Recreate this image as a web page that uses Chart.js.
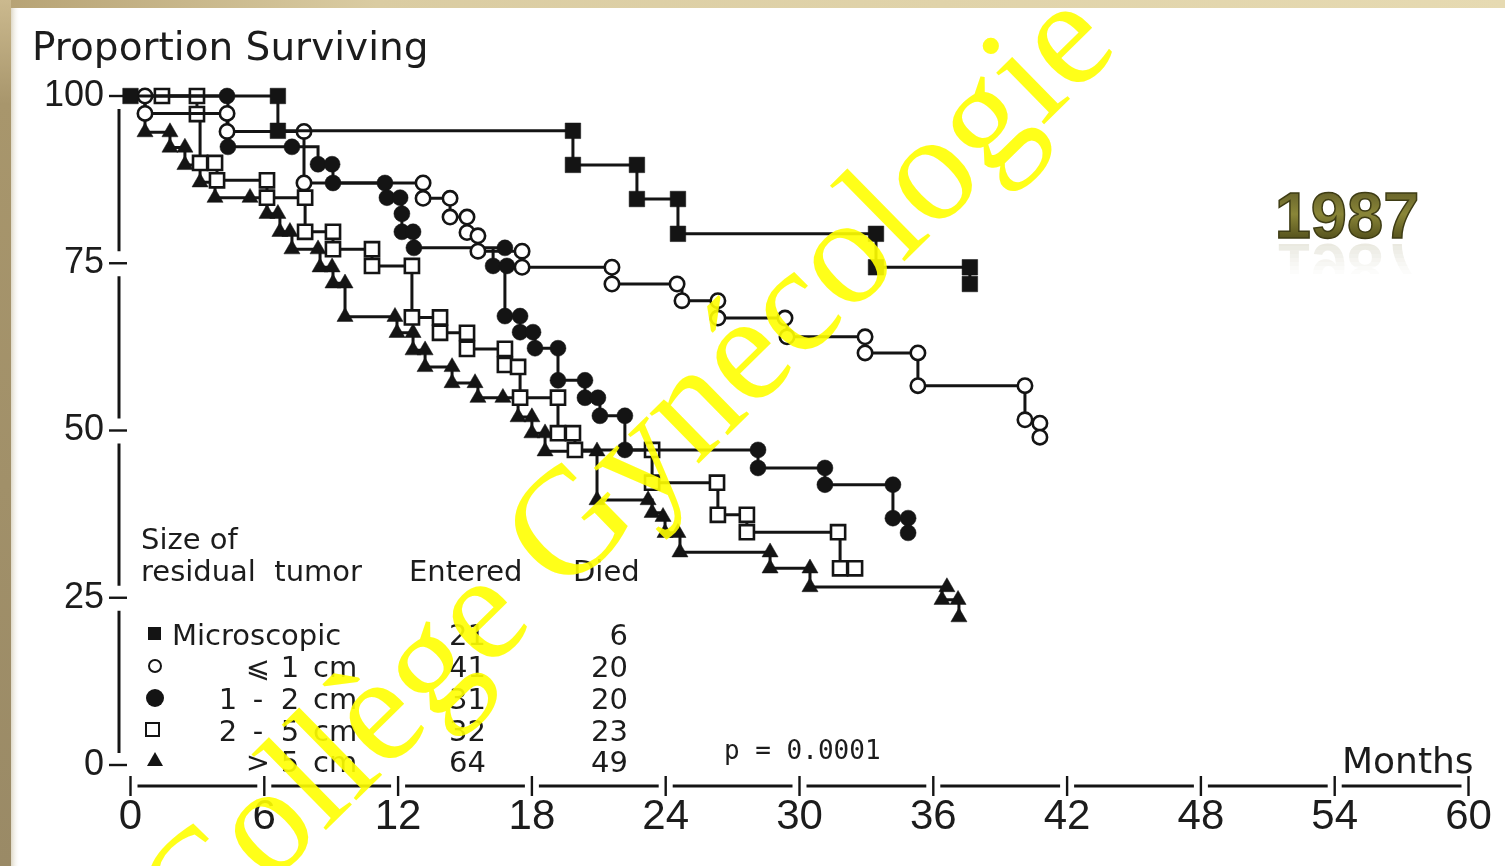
<!DOCTYPE html>
<html><head><meta charset="utf-8">
<script src="https://cdn.jsdelivr.net/npm/chart.js@4.4.1/dist/chart.umd.min.js"></script>
<style>html,body{margin:0;padding:0;background:#fff;overflow:hidden}#wrap{width:1505px;height:866px;position:relative}</style>
</head><body><div id="wrap"><canvas id="c"></canvas></div>
<script>
// ---- data (months, percent surviving) ----
const xTicks = [0, 6, 12, 18, 24, 30, 36, 42, 48, 54, 60];
const yTicks = [0, 25, 50, 75, 100];
const seriesNames = ['Microscopic', '⩽ 1 cm', '1 - 2 cm', '2 - 5 cm', '> 5 cm'];
const entered = [21, 41, 31, 32, 64];
const died = [6, 20, 20, 23, 49];
const pValue = 'p = 0.0001';

const microMonths = [0, 6.61, 6.61, 19.84, 19.84, 22.71, 22.71, 24.55, 24.55, 33.43, 33.43, 37.64, 37.64];
const microPct    = [100, 100, 94.8, 94.8, 89.7, 89.7, 84.6, 84.6, 79.4, 79.4, 74.4, 74.4, 71.9];

const le1Months = [0, 0.65, 0.65, 4.33, 4.33, 7.78, 7.78, 13.12, 13.12, 14.33, 14.33, 15.09, 15.09, 15.58, 15.58, 17.56, 17.56, 21.59, 21.59, 24.51, 24.73, 26.34, 26.34, 29.35, 29.44, 32.94, 32.94, 35.31, 35.31, 40.11, 40.11, 40.78, 40.78];
const le1Pct    = [100, 100, 97.4, 97.4, 94.7, 94.7, 87.0, 87.0, 84.7, 84.7, 81.9, 81.9, 79.6, 79.1, 76.8, 76.8, 74.4, 74.4, 71.9, 71.9, 69.4, 69.4, 66.8, 66.8, 64.0, 64.0, 61.6, 61.6, 56.7, 56.7, 51.6, 51.1, 49.0];

const c12Months = [0, 4.33, 4.37, 7.24, 8.41, 9.04, 9.08, 11.41, 11.50, 12.09, 12.17, 12.17, 12.67, 12.71, 16.79, 16.26, 16.88, 16.79, 17.47, 17.47, 18.05, 18.14, 19.17, 19.17, 20.38, 20.38, 20.96, 21.05, 22.17, 22.17, 28.14, 28.14, 31.14, 31.14, 34.19, 34.19, 34.87, 34.87];
const c12Pct    = [100, 100, 92.4, 92.4, 89.8, 89.8, 87.0, 87.0, 84.8, 84.8, 82.4, 79.7, 79.7, 77.3, 77.3, 74.6, 74.6, 67.1, 67.1, 64.7, 64.7, 62.3, 62.3, 57.5, 57.5, 54.9, 54.9, 52.2, 52.2, 47.1, 47.1, 44.4, 44.4, 41.9, 41.9, 36.9, 36.9, 34.7];

const c25Months = [0, 1.41, 2.98, 2.98, 3.12, 3.79, 3.88, 6.12, 6.12, 7.83, 7.83, 9.08, 9.08, 10.83, 10.83, 12.62, 12.62, 13.88, 13.88, 15.09, 15.09, 16.79, 16.79, 17.38, 17.47, 19.17, 19.17, 19.84, 19.93, 23.39, 23.39, 26.30, 26.34, 27.64, 27.64, 31.73, 31.82, 32.49];
const c25Pct    = [100, 100, 100, 97.3, 90.0, 90.0, 87.4, 87.4, 84.8, 84.8, 79.7, 79.7, 77.1, 77.1, 74.6, 74.6, 66.9, 66.9, 64.6, 64.6, 62.2, 62.2, 59.8, 59.5, 54.9, 54.9, 49.6, 49.6, 47.1, 47.1, 42.2, 42.2, 37.4, 37.4, 34.8, 34.8, 29.4, 29.4];

const gt5Months = [0, 0.65, 1.77, 1.77, 2.44, 2.44, 3.12, 3.79, 5.36, 6.12, 6.61, 6.70, 7.15, 7.24, 8.41, 8.50, 9.04, 9.08, 9.62, 9.62, 11.86, 11.95, 12.67, 12.67, 13.21, 13.21, 14.42, 14.42, 15.45, 15.58, 16.70, 17.38, 18.00, 18.00, 18.59, 18.59, 20.92, 20.92, 23.21, 23.39, 23.88, 23.97, 24.55, 24.64, 28.68, 28.68, 30.47, 30.47, 36.61, 36.39, 37.11, 37.15];
const gt5Pct    = [100, 94.6, 94.6, 92.3, 92.3, 89.7, 87.1, 84.8, 84.8, 82.4, 82.4, 79.7, 79.7, 77.1, 77.1, 74.4, 74.4, 72.0, 72.0, 67.0, 67.0, 64.6, 64.6, 62.0, 62.0, 59.5, 59.5, 57.1, 57.1, 54.9, 54.9, 52.0, 52.0, 49.6, 49.6, 46.9, 46.9, 39.6, 39.6, 37.7, 37.1, 34.7, 34.7, 31.8, 31.8, 29.4, 29.4, 26.6, 26.6, 24.7, 24.7, 22.1];

// ---- styling ----
const INK = '#141414';
function mk(label, months, pct, style, r, filled, hideFirst) {
  return {
    label,
    data: months.map((m, i) => ({ x: m, y: pct[i] })),
    stepped: 'before',
    borderColor: INK,
    borderWidth: 3,
    pointStyle: style,
    pointRadius: hideFirst ? (c) => (c.dataIndex === 0 ? 0 : r) : r,
    pointHoverRadius: r,
    pointBorderWidth: filled ? 0.5 : 2.6,
    pointBackgroundColor: filled ? INK : '#ffffff',
    pointBorderColor: INK,
    clip: false,
    fill: false,
    tension: 0
  };
}

const deco = {
  id: 'deco',
  beforeDraw(chart) {
    const ctx = chart.ctx, W = chart.width, H = chart.height;
    ctx.save();
    ctx.fillStyle = '#ffffff';
    ctx.fillRect(0, 0, W, H);
    let g = ctx.createLinearGradient(0, 0, W, 0);
    g.addColorStop(0, '#b6a274'); g.addColorStop(0.25, '#dacca2'); g.addColorStop(1, '#e6dab2');
    ctx.fillStyle = g; ctx.fillRect(0, 0, W, 8);
    g = ctx.createLinearGradient(0, 0, 0, H);
    g.addColorStop(0, '#cbb98e'); g.addColorStop(0.12, '#a8966c'); g.addColorStop(1, '#9a8a66');
    ctx.fillStyle = g; ctx.fillRect(0, 0, 11, H);
    g = ctx.createLinearGradient(11, 0, 20, 0);
    g.addColorStop(0, 'rgba(200,190,160,0.6)'); g.addColorStop(1, 'rgba(255,255,255,0)');
    ctx.fillStyle = g; ctx.fillRect(11, 8, 9, H);
    ctx.restore();
  },
  afterDraw(chart) {
    const ctx = chart.ctx, xs = chart.scales.x, ys = chart.scales.y;
    ctx.save();
    ctx.strokeStyle = INK; ctx.fillStyle = INK; ctx.lineCap = 'butt';
    // x axis (broken line with crossing ticks)
    const ay = ys.bottom;
    for (let i = 0; i < xTicks.length; i++) {
      const px = xs.getPixelForValue(xTicks[i]);
      ctx.beginPath(); ctx.lineWidth = 2.4; ctx.moveTo(px, ay - 10); ctx.lineTo(px, ay + 10); ctx.stroke();
      if (i < xTicks.length - 1) {
        const nx = xs.getPixelForValue(xTicks[i + 1]);
        ctx.beginPath(); ctx.lineWidth = 3.2; ctx.moveTo(px + 7, ay); ctx.lineTo(nx - 7, ay); ctx.stroke();
      }
    }
    // y axis
    const ax = xs.left;
    for (let i = 0; i < yTicks.length; i++) {
      const py = ys.getPixelForValue(yTicks[i]);
      ctx.beginPath(); ctx.lineWidth = 2.4; ctx.moveTo(ax - 10, py); ctx.lineTo(ax + 8, py); ctx.stroke();
      if (i < yTicks.length - 1) {
        const ny = ys.getPixelForValue(yTicks[i + 1]);
        ctx.beginPath(); ctx.lineWidth = 3; ctx.moveTo(ax, py - 12); ctx.lineTo(ax, ny + 13); ctx.stroke();
      }
    }
    // titles
    ctx.fillStyle = '#1c1c1c';
    ctx.textAlign = 'left'; ctx.textBaseline = 'alphabetic';
    ctx.font = '39px "DejaVu Sans"';
    ctx.fillText('Proportion Surviving', 32, 60);
    ctx.font = '36px "DejaVu Sans"';
    ctx.fillText('Months', 1342, 773);
    ctx.font = '26px "DejaVu Sans Mono"';
    ctx.fillText(pValue, 724, 759);
    // legend table
    ctx.font = '29px "DejaVu Sans"';
    ctx.fillText('Size of', 141, 549);
    ctx.fillText('residual  tumor', 141, 581);
    ctx.fillText('Entered', 409, 581);
    ctx.fillText('Died', 573, 581);
    const rowY = [645, 677, 709, 741, 772];
    ctx.fillText(seriesNames[0], 172, rowY[0]);
    const centers = [228, 258, 290];
    for (let r = 1; r < seriesNames.length; r++) {
      const parts = seriesNames[r].split(' ');
      const unit = parts.pop();
      ctx.textAlign = 'left'; ctx.fillText(unit, 313, rowY[r]);
      ctx.textAlign = 'center';
      for (let k = parts.length - 1, c = 2; k >= 0; k--, c--) ctx.fillText(parts[k], centers[c], rowY[r]);
    }
    ctx.textAlign = 'right';
    for (let r = 0; r < entered.length; r++) {
      ctx.fillText(String(entered[r]), 486, rowY[r]);
      ctx.fillText(String(died[r]), 628, rowY[r]);
    }
    // legend symbols
    const sx = 155;
    ctx.fillStyle = INK; ctx.strokeStyle = INK;
    ctx.fillRect(sx - 7, rowY[0] - 18, 13, 13);
    ctx.lineWidth = 2; ctx.beginPath(); ctx.arc(sx, rowY[1] - 11, 6, 0, Math.PI * 2); ctx.stroke();
    ctx.beginPath(); ctx.arc(sx, rowY[2] - 11, 9, 0, Math.PI * 2); ctx.fill();
    ctx.lineWidth = 2; ctx.strokeRect(sx - 9, rowY[3] - 18, 13, 13);
    ctx.beginPath(); ctx.moveTo(sx, rowY[4] - 20); ctx.lineTo(sx + 8, rowY[4] - 6); ctx.lineTo(sx - 8, rowY[4] - 6); ctx.closePath(); ctx.fill();
    // 1987 with faint reflection
    ctx.textAlign = 'center'; ctx.textBaseline = 'alphabetic';
    ctx.font = 'bold 65px "Liberation Sans"';
    let g = ctx.createLinearGradient(0, 190, 0, 238);
    g.addColorStop(0, '#66622a'); g.addColorStop(0.5, '#8a8638'); g.addColorStop(1, '#57541e');
    ctx.fillStyle = g; ctx.fillText('1987', 1347, 238);
    ctx.lineWidth = 1.5; ctx.strokeStyle = '#3e3c14'; ctx.strokeText('1987', 1347, 238);
    for (let b = 0; b < 8; b++) {
      ctx.save();
      ctx.beginPath(); ctx.rect(1260, 242 + b * 4, 180, 4); ctx.clip();
      ctx.translate(0, 482); ctx.scale(1, -1);
      ctx.globalAlpha = 0.16 * (1 - b / 8); ctx.fillStyle = '#7a7640'; ctx.fillText('1987', 1347, 238);
      ctx.restore();
    }
    // watermark
    ctx.save();
    ctx.globalAlpha = 0.9; ctx.fillStyle = '#ffff00';
    ctx.font = '153px "Liberation Serif"';
    ctx.translate(563, 597); ctx.rotate(-44.5 * Math.PI / 180);
    ctx.textAlign = 'right'; ctx.fillText('Collège ', 0, 0);
    ctx.textAlign = 'left'; ctx.fillText('Gynécologie', 0, 0);
    ctx.restore();
    ctx.restore();
  }
};

new Chart(document.getElementById('c'), {
  type: 'line',
  data: {
    datasets: [
      mk(seriesNames[0], microMonths, microPct, 'rect', 11, true, false),
      mk(seriesNames[1], le1Months, le1Pct, 'circle', 7.2, false, true),
      mk(seriesNames[2], c12Months, c12Pct, 'circle', 8, true, true),
      mk(seriesNames[3], c25Months, c25Pct, 'rect', 10, false, true),
      mk(seriesNames[4], gt5Months, gt5Pct, 'triangle', 9.3, true, true)
    ]
  },
  options: {
    responsive: true,
    maintainAspectRatio: false,
    animation: false,
    layout: { padding: { top: 96, right: 36.5, bottom: 0, left: 0 } },
    plugins: { legend: { display: false }, tooltip: { enabled: false } },
    events: [],
    scales: {
      x: {
        type: 'linear', min: -0.5157, max: 60,
        afterBuildTicks: (s) => { s.ticks = xTicks.map(v => ({ value: v })); },
        afterFit: (s) => { s.height = 80; },
        grid: { display: false, drawTicks: false },
        border: { display: false },
        ticks: { autoSkip: false, maxRotation: 0, padding: 6, color: '#1c1c1c',
          font: { family: '"Liberation Sans Narrow", "Liberation Sans", sans-serif', size: 42 } }
      },
      y: {
        type: 'linear', min: -3.139, max: 100,
        afterBuildTicks: (s) => { s.ticks = yTicks.map(v => ({ value: v })); },
        afterFit: (s) => { s.width = 119; },
        grid: { display: false, drawTicks: false },
        border: { display: false },
        ticks: { padding: 15, color: '#1c1c1c',
          font: { family: '"Liberation Sans", sans-serif', size: 36 } }
      }
    }
  },
  plugins: [deco]
});
</script>
</body></html>
